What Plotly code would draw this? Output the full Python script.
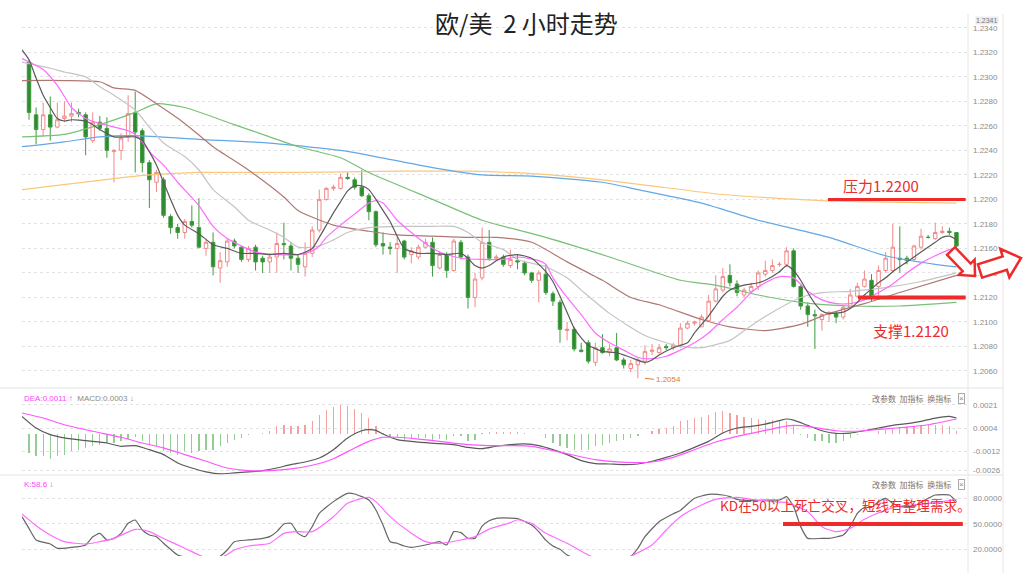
import math
import numpy as np
import plotly.graph_objects as go

W, H = 1024, 573
def px(x): return x / W
def py(y): return 1 - y / H

# ---------------- candles (EUR/USD, 2h) ----------------
open_ = [1.2312,1.2269,1.2257,1.2269,1.2259,1.2266,1.2268,1.2271,1.2269,1.2248,
         1.2263,1.2258,1.2239,1.2240,1.2251,1.2271,1.2256,1.2230,1.2214,1.2216,
         1.2186,1.2177,1.2173,1.2182,1.2177,1.2160,1.2165,1.2144,1.2149,1.2166,
         1.2161,1.2151,1.2161,1.2152,1.2149,1.2153,1.2164,1.2162,1.2152,1.2145,
         1.2156,1.2175,1.2200,1.2209,1.2209,1.2218,1.2216,1.2210,1.2203,1.2190,
         1.2164,1.2161,1.2160,1.2166,1.2155,1.2153,1.2161,1.2165,1.2144,1.2155,
         1.2142,1.2165,1.2153,1.2120,1.2136,1.2165,1.2152,1.2153,1.2146,1.2150,
         1.2148,1.2140,1.2134,1.2139,1.2123,1.2116,1.2093,1.2094,1.2077,1.2083,
         1.2067,1.2079,1.2075,1.2079,1.2069,1.2062,1.2065,1.2068,1.2076,1.2075,
         1.2080,1.2079,1.2081,1.2095,1.2099,1.2096,1.2101,1.2117,1.2126,1.2138,
         1.2131,1.2122,1.2125,1.2129,1.2139,1.2142,1.2147,1.2147,1.2158,1.2129,
         1.2113,1.2106,1.2102,1.2106,1.2107,1.2104,1.2112,1.2121,1.2129,1.2134,
         1.2129,1.2142,1.2142,1.2152,1.2152,1.2151,1.2161,1.2169,1.2168,1.2173,
         1.2174,1.2173]
high = [1.2314,1.2275,1.2279,1.2284,1.2279,1.2280,1.2279,1.2274,1.2271,1.2271,
        1.2268,1.2267,1.2241,1.2254,1.2285,1.2288,1.2258,1.2232,1.2224,1.2218,
        1.2188,1.2180,1.2184,1.2195,1.2201,1.2167,1.2173,1.2157,1.2168,1.2168,
        1.2162,1.2162,1.2163,1.2154,1.2156,1.2173,1.2181,1.2165,1.2155,1.2165,
        1.2178,1.2208,1.2210,1.2212,1.2221,1.2222,1.2218,1.2224,1.2205,1.2191,
        1.2173,1.2165,1.2169,1.2167,1.2161,1.2163,1.2168,1.2169,1.2157,1.2157,
        1.2168,1.2167,1.2155,1.2140,1.2177,1.2175,1.2155,1.2155,1.2159,1.2155,
        1.2150,1.2141,1.2142,1.2147,1.2125,1.2118,1.2100,1.2096,1.2083,1.2085,
        1.2083,1.2090,1.2082,1.2091,1.2071,1.2069,1.2071,1.2081,1.2082,1.2082,
        1.2082,1.2083,1.2099,1.2101,1.2101,1.2106,1.2122,1.2138,1.2144,1.2147,
        1.2134,1.2128,1.2132,1.2142,1.2150,1.2151,1.2149,1.2161,1.2160,1.2130,
        1.2116,1.2110,1.2107,1.2109,1.2108,1.2114,1.2127,1.2132,1.2142,1.2139,
        1.2146,1.2157,1.2180,1.2178,1.2154,1.2163,1.2176,1.2171,1.2181,1.2178,
        1.2177,1.2173]
low = [1.2265,1.2245,1.2251,1.2248,1.2258,1.2263,1.2263,1.2267,1.2236,1.2246,
       1.2256,1.2234,1.2214,1.2232,1.2247,1.2222,1.2222,1.2193,1.2206,1.2185,
       1.2172,1.2168,1.2168,1.2177,1.2160,1.2154,1.2138,1.2132,1.2145,1.2160,
       1.2149,1.2149,1.2142,1.2140,1.2140,1.2140,1.2151,1.2142,1.2140,1.2137,
       1.2153,1.2173,1.2199,1.2207,1.2208,1.2216,1.2208,1.2202,1.2183,1.2161,
       1.2155,1.2155,1.2140,1.2151,1.2148,1.2151,1.2160,1.2137,1.2143,1.2136,
       1.2141,1.2151,1.2111,1.2112,1.2134,1.2150,1.2150,1.2145,1.2144,1.2143,
       1.2138,1.2132,1.2116,1.2122,1.2113,1.2083,1.2085,1.2076,1.2075,1.2066,
       1.2064,1.2074,1.2072,1.2068,1.2062,1.2059,1.2054,1.2065,1.2073,1.2074,
       1.2077,1.2077,1.2079,1.2094,1.2097,1.2096,1.2100,1.2116,1.2124,1.2129,
       1.2121,1.2120,1.2124,1.2126,1.2137,1.2140,1.2145,1.2145,1.2128,1.2110,
       1.2096,1.2078,1.2093,1.2100,1.2099,1.2102,1.2111,1.2120,1.2128,1.2117,
       1.2118,1.2140,1.2141,1.2140,1.2147,1.2149,1.2159,1.2168,1.2167,1.2172,
       1.2171,1.2160]
close = [1.2271,1.2257,1.2269,1.2259,1.2265,1.2268,1.2270,1.2270,1.2251,1.2263,
         1.2258,1.2240,1.2240,1.2250,1.2270,1.2255,1.2230,1.2216,1.2222,1.2187,
         1.2177,1.2173,1.2182,1.2179,1.2161,1.2165,1.2145,1.2150,1.2166,1.2162,
         1.2151,1.2160,1.2149,1.2149,1.2153,1.2164,1.2163,1.2152,1.2147,1.2156,
         1.2175,1.2200,1.2209,1.2210,1.2218,1.2217,1.2210,1.2203,1.2190,1.2163,
         1.2162,1.2160,1.2164,1.2153,1.2158,1.2161,1.2165,1.2146,1.2155,1.2142,
         1.2166,1.2153,1.2120,1.2135,1.2165,1.2152,1.2153,1.2147,1.2151,1.2149,
         1.2140,1.2134,1.2140,1.2124,1.2117,1.2094,1.2094,1.2078,1.2076,1.2068,
         1.2079,1.2075,1.2078,1.2069,1.2065,1.2066,1.2069,1.2076,1.2077,1.2079,
         1.2079,1.2081,1.2095,1.2099,1.2100,1.2104,1.2117,1.2127,1.2137,1.2132,
         1.2124,1.2126,1.2129,1.2140,1.2142,1.2146,1.2147,1.2158,1.2129,1.2113,
         1.2106,1.2105,1.2106,1.2107,1.2104,1.2112,1.2122,1.2129,1.2135,1.2121,
         1.2142,1.2152,1.2161,1.2151,1.2150,1.2162,1.2170,1.2169,1.2173,1.2174,
         1.2173,1.2162]
bar_idx = list(range(len(close)))

# ---------------- moving averages (bar index, value) ----------------
ma5_i = [-1,0,1,2,3,4,5,6,8,9,10,12,15,16,17,18,19,20,21,22,24,26,28,30,32,34,36,38,
         40,41,42,43,44,45,46,47,48,49,50,51,52,53,55,57,59,61,62,63,64,65,66,67,
         69,71,72,73,74,75,76,77,78,79,81,83,85,87,88,89,91,93,94,95,96,97,98,99,
         101,103,104,106,107,108,109,110,111,112,113,115,116,117,118,119,120,121,122,
         124,126,128,129,130,131]
ma5_v = [1.2322,1.2314,1.2299,1.2285,1.2275,1.2266,1.2264,1.2265,1.2264,1.2261,1.2257,1.2251,
         1.2251,1.2248,1.2239,1.2228,1.2214,1.2200,1.2187,1.2179,1.2172,1.2163,1.2160,1.2156,
         1.2156,1.2155,1.2156,1.2155,1.2160,1.2169,1.2179,1.2189,1.2198,1.2207,1.2211,1.2211,
         1.2208,1.2200,1.2191,1.2182,1.2170,1.2160,1.2156,1.2156,1.2155,1.2156,1.2152,1.2146,
         1.2144,1.2146,1.2150,1.2153,1.2155,1.2152,1.2147,1.2141,1.2133,1.2121,1.2108,1.2095,
         1.2087,1.2081,1.2076,1.2075,1.2071,1.2067,1.2069,1.2073,1.2079,1.2083,1.2091,1.2098,
         1.2105,1.2113,1.2121,1.2126,1.2130,1.2132,1.2134,1.2141,1.2146,1.2142,1.2134,1.2124,
         1.2115,1.2109,1.2107,1.2108,1.2111,1.2116,1.2122,1.2127,1.2132,1.2136,1.2141,1.2149,
         1.2157,1.2165,1.2169,1.2170,1.2167]
ma10_i = [-1,2,4,5,6,8,10,12,14,15,16,17,19,21,24,26,28,30,32,35,38,40,41,42,44,46,48,49,
          50,52,54,56,58,61,64,67,69,72,73,74,76,78,80,82,84,86,88,90,92,94,96,98,100,
          102,104,106,108,110,112,114,116,118,120,122,124,126,128,130,131]
ma10_v = [1.2315,1.2306,1.2293,1.2284,1.2275,1.2266,1.2262,1.2259,1.2256,1.2253,1.2247,1.2239,
          1.2228,1.2214,1.2195,1.2178,1.2168,1.2162,1.2157,1.2155,1.2155,1.2158,1.2162,1.2169,
          1.2179,1.2188,1.2197,1.2199,1.2197,1.2183,1.2173,1.2164,1.2157,1.2152,1.2151,1.2151,
          1.2153,1.2150,1.2147,1.2136,1.2120,1.2106,1.2091,1.2083,1.2077,1.2071,1.2070,1.2072,
          1.2077,1.2083,1.2091,1.2102,1.2112,1.2124,1.2132,1.2137,1.2136,1.2125,1.2118,1.2115,
          1.2115,1.2118,1.2124,1.2131,1.2140,1.2148,1.2154,1.2159,1.2161]
ma20_i = [-1,3,5,8,10,12,15,17,19,22,24,26,29,31,34,36,38,41,43,45,48,52,57,60,62,
          64,67,69,73,76,78,82,87,92,95,99,102,105,109,112,116,121,126,131]
ma20_v = [1.2312,1.2307,1.2304,1.2300,1.2292,1.2285,1.2273,1.2259,1.2246,1.2235,1.2224,1.2208,
          1.2194,1.2183,1.2175,1.2169,1.2161,1.2162,1.2167,1.2173,1.2177,1.2178,1.2178,1.2178,
          1.2173,1.2165,1.2159,1.2151,1.2145,1.2136,1.2126,1.2107,1.2089,1.2080,1.2079,1.2085,
          1.2097,1.2108,1.2120,1.2124,1.2125,1.2128,1.2133,1.2140]
ma30_i = [-1,5,10,12,15,18,22,26,31,36,38,43,48,52,57,62,66,71,76,81,85,89,95,99,104,
          109,113,118,123,131]
ma30_v = [1.2297,1.2297,1.2296,1.2291,1.2289,1.2278,1.2262,1.2243,1.2224,1.2202,1.2191,1.2179,
          1.2174,1.2171,1.2170,1.2169,1.2169,1.2165,1.2149,1.2134,1.2120,1.2114,1.2102,1.2096,
          1.2093,1.2098,1.2107,1.2115,1.2124,1.2138]
ma60_i = [-1,5,10,15,18,22,29,34,38,44,48,57,64,73,82,92,97,103,109,116,123,131]
ma60_v = [1.2251,1.2253,1.2261,1.2271,1.2278,1.2275,1.2261,1.2251,1.2243,1.2234,1.2222,1.2200,
          1.2183,1.2169,1.2153,1.2134,1.2130,1.2122,1.2116,1.2113,1.2113,1.2116]
ma120_i = [-1,5,10,15,24,34,44,48,57,64,71,81,86,95,103,113,121,128,131]
ma120_v = [1.2243,1.2247,1.2251,1.2252,1.2249,1.2246,1.2240,1.2236,1.2226,1.2220,1.2219,1.2214,
           1.2208,1.2197,1.2183,1.2169,1.2154,1.2147,1.2145]
ma240_i = [-1,12,17,24,38,52,62,71,81,88,98,112,131]
ma240_v = [1.2208,1.2217,1.2220,1.2222,1.2222,1.2223,1.2223,1.2221,1.2216,1.2211,1.2204,1.2199,1.2197]

# ---------------- MACD (values in 1e-4) ----------------
macd_hist_e4 = [-13.9,-16.3,-16.3,-18.1,-16.3,-15.1,-12.7,-11.5,-10.2,-9.0,
                -7.8,-6.6,-6.6,-5.4,-3.7,-2.4,-4.9,-7.8,-9.0,-12.7,
                -13.9,-15.1,-12.7,-13.9,-12.7,-11.5,-11.5,-9.0,-6.6,-4.1,
                -2.9,-1.0,0.0,0.7,2.0,5.6,6.3,5.6,5.6,6.8,
                9.3,13.7,17.8,19.5,21.0,20.3,18.5,15.4,11.7,5.6,
                0.7,-2.9,-2.4,-4.1,-3.4,-2.9,-2.9,-4.1,-3.7,-4.1,
                -1.7,-1.7,-5.4,-4.1,0.7,1.5,1.2,1.2,1.5,1.5,
                0.7,0.2,0.0,-2.9,-6.6,-9.0,-10.2,-11.5,-11.5,-11.5,
                -9.0,-7.8,-6.6,-5.4,-4.1,-2.9,-1.7,0.0,2.0,3.9,
                4.4,5.6,9.8,10.5,11.7,12.2,13.7,16.1,17.1,15.4,
                14.2,12.4,11.7,11.2,10.5,10.5,9.8,9.3,5.6,-1.0,
                -2.9,-4.9,-5.4,-6.6,-6.6,-4.9,-2.9,-1.0,0.0,0.0,
                2.0,3.2,4.4,4.9,4.9,5.6,6.3,6.8,6.8,6.3,
                5.6,2.4]
dif_i = [-1,1,3,5,8,11,13,15,17,19,21,23,25,27,29,31,33,35,37,39,41,43,45,47,48,49,50,52,55,58,
         60,62,64,66,68,70,72,74,76,78,80,82,84,86,88,90,92,94,96,98,100,102,104,106,107,108,
         110,112,114,116,118,120,122,124,126,128,130,131]
dif_e4 = [12.9,4.4,-0.5,-2.9,-4.9,-6.6,-9.0,-8.5,-11.5,-15.1,-21.2,-24.9,-27.8,-29.3,-28.5,-27.8,
          -26.8,-24.9,-22.4,-20.5,-17.6,-11.5,-2.9,2.4,3.2,2.7,0.0,-4.1,-5.9,-7.1,-7.8,-9.8,-10.7,
          -9.0,-7.8,-7.3,-8.5,-11.5,-15.1,-19.5,-21.7,-22.0,-22.4,-22.0,-20.0,-17.1,-13.9,-9.8,
          -5.4,0.7,4.4,5.6,7.3,9.8,11.0,10.2,6.3,2.4,0.5,0.7,2.4,4.4,6.3,7.6,9.3,11.7,12.9,11.7]
dea_i = [-1,2,5,9,13,16,19,22,25,28,31,34,37,40,43,46,48,50,52,55,58,62,65,68,71,74,77,80,83,
         86,88,91,94,97,100,103,106,108,110,112,114,116,118,121,124,127,129,131]
dea_e4 = [15.4,11.7,6.8,2.0,-2.4,-6.6,-10.2,-15.1,-20.0,-24.9,-26.8,-26.8,-25.6,-22.9,-18.1,
          -10.2,-5.4,-2.4,-2.4,-3.7,-5.4,-7.8,-8.5,-8.5,-9.0,-12.2,-15.6,-18.8,-20.5,-21.0,-20.5,
          -17.1,-11.5,-5.9,-1.7,1.5,4.9,6.3,5.6,3.9,2.4,2.0,2.4,3.7,5.1,6.8,8.8,11.0]
macd_ticks_e4 = [21.3, 4.4, -12.5, -26.4]
macd_tick_text = ["0.0021", "0.0004", "-0.0012", "-0.0026"]

# ---------------- KD ----------------
k_i = [-1,0,1,3,4,7,8,9,10,11,12,13,14,15,16,17,18,19,20,21,22,23,24,25,26,27,28,29,31,33,34,
       35,36,37,38,39,40,41,43,45,46,48,49,50,51,52,53,54,56,57,58,59,60,61,62,63,64,65,66,68,
       69,70,71,72,73,74,75,76,77,78,79,80,81,82,83,84,85,86,87,89,91,92,94,96,98,99,100,102,
       104,106,107,108,109,110,112,113,115,116,117,118,119,120,121,122,123,125,127,128,130,131]
k_v = [58.6,44.9,31.2,26.5,21.4,23.3,25.3,35.0,39.0,31.2,33.1,39.0,50.8,54.7,42.9,37.1,35.1,
       27.3,20.2,13.5,11.0,7.0,5.0,5.0,8.0,12.0,19.4,29.2,31.2,33.1,35.1,41.0,50.0,50.8,39.0,
       35.1,46.9,62.5,76.3,86.1,85.3,78.2,66.5,48.8,29.2,27.3,24.1,22.5,25.3,27.3,29.2,25.3,
       41.0,39.8,33.1,33.1,47.6,53.9,56.7,57.0,56.5,53.0,48.8,41.0,31.0,24.0,20.2,13.5,10.0,
       7.0,5.0,4.0,4.0,5.0,6.0,8.0,12.0,21.4,35.1,52.7,62.0,66.0,80.2,84.9,84.1,82.2,79.0,
       77.5,78.2,78.2,82.2,70.4,46.9,33.1,33.1,33.1,37.1,46.9,62.5,69.6,69.6,76.3,80.2,74.3,
       70.4,71.2,80.2,84.1,84.1,76.3]
d_i = [-1,1,3,5,8,10,12,15,17,19,22,24,25,26,27,28,29,31,34,36,38,40,43,45,48,49,51,54,56,58,
       61,63,65,68,69,70,71,73,76,79,80,82,84,85,88,90,92,95,97,100,102,105,107,110,112,114,
       116,118,121,123,125,128,131]
d_v = [61.8,48.0,37.1,29.2,26.5,29.2,33.1,43.7,41.0,33.0,21.4,13.5,10.0,8.0,10.0,14.0,19.4,
       24.1,27.3,39.0,41.0,41.0,58.6,74.3,81.4,76.3,58.6,39.0,29.2,27.3,31.2,35.1,44.0,51.6,
       55.0,53.0,50.8,39.0,27.3,13.5,10.0,7.0,8.0,12.0,25.3,42.9,58.6,72.4,79.0,81.4,79.0,76.3,
       75.1,64.5,46.9,41.0,44.9,55.5,66.5,71.2,72.4,75.1,79.0]

price_ticks = [1.2060 + 0.0020 * k for k in range(15)]
pressure_level = 1.2200
support_level = 1.2120
kd_level = 50
low_mark = 1.2054
low_bar = 87

CJK = "Noto Sans CJK SC, Noto Sans, sans-serif"
AX = "Liberation Sans, Arial, sans-serif"
RED = "#ee2b2b"

fig = go.Figure()

fig.add_trace(go.Candlestick(
    x=bar_idx, open=open_, high=high, low=low, close=close,
    increasing=dict(line=dict(color="#f08a8a", width=1), fillcolor="#ffffff"),
    decreasing=dict(line=dict(color="#3f9a3f", width=1), fillcolor="#2e8b2e"),
    whiskerwidth=0, xaxis="x", yaxis="y", hoverinfo="skip"))

def ma_line(xi, yv, color, width=1.2):
    fig.add_trace(go.Scatter(x=xi, y=yv, mode="lines", xaxis="x", yaxis="y",
                             line=dict(color=color, width=width, shape="spline", smoothing=0.6),
                             hoverinfo="skip"))

ma_line(ma240_i, ma240_v, "#fbc77a")
ma_line(ma120_i, ma120_v, "#62a8e6")
ma_line(ma60_i, ma60_v, "#78c078")
ma_line(ma30_i, ma30_v, "#b07874")
ma_line(ma20_i, ma20_v, "#c4c4c4")
ma_line(ma10_i, ma10_v, "#ff6cff")
ma_line(ma5_i, ma5_v, "#5a5a5a")

# MACD panel
hist = np.array(macd_hist_e4) * 1e-4
fig.add_trace(go.Bar(x=bar_idx, y=hist, width=0.18, xaxis="x2", yaxis="y2",
                     marker=dict(color=["#f4a0a0" if v >= 0 else "#95cc95" for v in hist], line=dict(width=0)),
                     hoverinfo="skip"))
fig.add_trace(go.Scatter(x=dif_i, y=np.array(dif_e4) * 1e-4, mode="lines", xaxis="x2", yaxis="y2",
                         line=dict(color="#5a5a5a", width=1.2, shape="spline", smoothing=0.6), hoverinfo="skip"))
fig.add_trace(go.Scatter(x=dea_i, y=np.array(dea_e4) * 1e-4, mode="lines", xaxis="x2", yaxis="y2",
                         line=dict(color="#ff55ff", width=1.2, shape="spline", smoothing=0.6), hoverinfo="skip"))

# KD panel
fig.add_trace(go.Scatter(x=k_i, y=k_v, mode="lines", xaxis="x3", yaxis="y3",
                         line=dict(color="#666666", width=1.2, shape="spline", smoothing=0.5), hoverinfo="skip"))
fig.add_trace(go.Scatter(x=d_i, y=d_v, mode="lines", xaxis="x3", yaxis="y3",
                         line=dict(color="#ff6cff", width=1.2, shape="spline", smoothing=0.6), hoverinfo="skip"))

xr = [-0.99, 132.63]
xdom = [px(22), px(968)]
S = 0.733e-4  # MACD units per pixel
common_y = dict(side="right", showline=False, zeroline=False, ticks="", showgrid=True,
                gridcolor="#e2e2e2", griddash="dot", gridwidth=1,
                tickfont=dict(family=AX, size=8, color="#8c8c8c"), ticklabelstandoff=4)

fig.update_layout(
    width=W, height=H, margin=dict(l=0, r=0, t=0, b=0), autosize=False,
    paper_bgcolor="white", plot_bgcolor="white", showlegend=False, bargap=0,
    xaxis=dict(domain=xdom, range=xr, visible=False, anchor="y", rangeslider=dict(visible=False)),
    yaxis=dict(domain=[py(388), py(14)], range=[1.20461, 1.23513], anchor="x",
               tickvals=price_ticks, ticktext=[f"{v:.4f}" for v in price_ticks], **common_y),
    xaxis2=dict(domain=xdom, range=xr, visible=False, anchor="y2"),
    yaxis2=dict(domain=[py(476), py(390)], range=[-(476 - 434) * S, (434 - 390) * S], anchor="x2",
                tickvals=[v * 1e-4 for v in macd_ticks_e4], ticktext=macd_tick_text, **common_y),
    xaxis3=dict(domain=xdom, range=xr, visible=False, anchor="y3"),
    yaxis3=dict(domain=[py(556), py(478)], range=[12.35, 104.1], anchor="x3",
                tickvals=[20, 50, 80], ticktext=["20.0000", "50.0000", "80.0000"], **common_y),
)

shapes = []
for yy in (388, 475):
    shapes.append(dict(type="line", xref="paper", yref="paper", x0=0, x1=px(1003), y0=py(yy), y1=py(yy),
                       line=dict(color="#e3e3e3", width=1)))
for xx in (968, 1003):
    shapes.append(dict(type="line", xref="paper", yref="paper", x0=px(xx), x1=px(xx), y0=0, y1=py(14),
                       line=dict(color="#e6e6e6", width=1)))
shapes.append(dict(type="line", xref="x", yref="y", x0=112.85, x1=132.3, y0=pressure_level, y1=pressure_level,
                   line=dict(color=RED, width=3)))
shapes.append(dict(type="line", xref="x", yref="y", x0=117.1, x1=132.3, y0=support_level, y1=support_level,
                   line=dict(color=RED, width=4)))
shapes.append(dict(type="line", xref="x3", yref="y3", x0=106.5, x1=131.9, y0=kd_level, y1=kd_level,
                   line=dict(color=RED, width=4)))

def block_arrow(tail, tip, w, h, lh):
    tx, ty = tail
    ex, ey = tip
    L = math.hypot(ex - tx, ey - ty)
    ux, uy = (ex - tx) / L, (ey - ty) / L
    nx, ny = -uy, ux
    kx, ky = ex - ux * lh, ey - uy * lh
    pts = [(tx + nx * w, ty + ny * w), (kx + nx * w, ky + ny * w), (kx + nx * h, ky + ny * h),
           (ex, ey), (kx - nx * h, ky - ny * h), (kx - nx * w, ky - ny * w), (tx - nx * w, ty - ny * w)]
    path = "M " + " L ".join(f"{px(a):.5f} {py(b):.5f}" for a, b in pts) + " Z"
    return dict(type="path", xref="paper", yref="paper", path=path, fillcolor="white",
                line=dict(color=RED, width=2.5))

shapes.append(block_arrow((951, 251), (975, 276), 5.5, 11, 12))
shapes.append(block_arrow((980, 271), (1021, 258), 7, 15, 17))
fig.update_layout(shapes=shapes)

def note(x, y, text, size, color, family=CJK, xanchor="center", **kw):
    return dict(xref="paper", yref="paper", x=px(x), y=py(y), text=text, showarrow=False,
                xanchor=xanchor, yanchor="middle", font=dict(family=family, size=size, color=color), **kw)

ann = []
ann.append(note(526, 23, "欧/美  2 小时走势", 24, "#222222"))
ann.append(note(987, 20, "1.2341", 7, "#777777", family=AX, bgcolor="#ececec", borderpad=0))
ann.append(note(881, 185, "压力1.2200", 15, RED))
ann.append(note(911, 330, "支撑1.2120", 15, RED))
ann.append(note(845, 505, "KD在50以上死亡交叉，短线有整理需求。", 13.6, RED))
ann.append(dict(xref="x", yref="y", x=low_bar, y=low_mark, text=f"{low_mark:.4f}", showarrow=True,
                arrowhead=0, arrowwidth=1, arrowcolor="#e07a30", ax=9, ay=1, xanchor="left",
                yanchor="middle", font=dict(family=AX, size=8, color="#e07a30")))
ann.append(note(22, 398, "<span style='color:#ff44ff'>DEA:0.0011 ↑</span>  "
                         "<span style='color:#8a8a8a'>MACD:0.0003 ↓</span>", 8, "#8a8a8a",
                family=AX, xanchor="left"))
ann.append(note(22, 484, "<span style='color:#ff44ff'>K:58.6 ↓</span>", 8, "#ff44ff",
                family=AX, xanchor="left"))
for yy in (398, 484):
    ann.append(note(953, yy, "改参数  加指标  换指标", 8, "#777777", xanchor="right"))
    ann.append(note(961, yy, "×", 8, "#888888", family=AX, bordercolor="#aaaaaa", borderwidth=1, borderpad=0))
fig.update_layout(annotations=ann)

fig.write_html("out.html", config={"staticPlot": True, "displayModeBar": False},
               post_script="document.body.style.margin='0px';")
